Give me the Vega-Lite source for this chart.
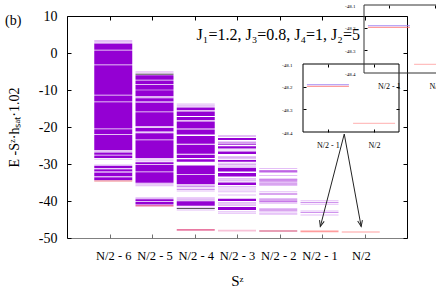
{
  "$schema": "https://vega.github.io/schema/vega-lite/v6.json",
  "width": 340,
  "height": 222,
  "autosize": {"type": "none"},
  "padding": {"left": 67, "top": 16, "right": 29, "bottom": 67},
  "background": "white",
  "config": {
    "view": {"stroke": "black", "strokeWidth": 1},
    "font": "Liberation Serif",
    "axis": {"labelFont": "Liberation Serif", "titleFont": "Liberation Serif", "labelColor": "black", "titleColor": "black", "tickColor": "black", "domainColor": "black", "tickWidth": 1, "titleFontWeight": "normal", "grid": false}
  },
  "title": {"text": "(b)", "anchor": "start", "frame": "group", "dx": -62, "dy": 26, "offset": 1, "baseline": "top", "fontSize": 14, "fontWeight": "normal", "font": "Liberation Serif", "color": "black"},
  "datasets": {
    "bands": [
      {"k": -6, "E": 0.9, "E2": 2.6}, {"k": -6, "E": -3.1, "E2": 0.7}, {"k": -6, "E": -11.3, "E2": -3.3}, {"k": -6, "E": -13.1, "E2": -11.5}, {"k": -6, "E": -20.4, "E2": -13.3}, {"k": -6, "E": -21.9, "E2": -20.6}, {"k": -6, "E": -26.3, "E2": -22.1}, {"k": -6, "E": -27.5, "E2": -26.9}, {"k": -6, "E": -28.4, "E2": -27.7}, {"k": -6, "E": -31.1, "E2": -30.5}, {"k": -6, "E": -32.0, "E2": -31.4}, {"k": -6, "E": -33.3, "E2": -32.3}, {"k": -6, "E": -34.4, "E2": -33.6},
      {"k": -5, "E": -7.2, "E2": -6.0}, {"k": -5, "E": -8.4, "E2": -7.4}, {"k": -5, "E": -9.9, "E2": -8.6}, {"k": -5, "E": -11.7, "E2": -10.1}, {"k": -5, "E": -13.1, "E2": -12.2}, {"k": -5, "E": -15.8, "E2": -13.4}, {"k": -5, "E": -19.8, "E2": -16.0}, {"k": -5, "E": -21.2, "E2": -20.3}, {"k": -5, "E": -23.4, "E2": -21.7}, {"k": -5, "E": -28.4, "E2": -23.6}, {"k": -5, "E": -30.0, "E2": -29.5}, {"k": -5, "E": -32.0, "E2": -30.2}, {"k": -5, "E": -35.1, "E2": -32.2}, {"k": -5, "E": -40.0, "E2": -39.5}, {"k": -5, "E": -40.95, "E2": -40.3},
      {"k": -4, "E": -15.5, "E2": -14.7}, {"k": -4, "E": -17.0, "E2": -15.8}, {"k": -4, "E": -18.2, "E2": -17.3}, {"k": -4, "E": -20.4, "E2": -18.5}, {"k": -4, "E": -22.0, "E2": -20.7}, {"k": -4, "E": -24.5, "E2": -22.4}, {"k": -4, "E": -27.2, "E2": -24.8}, {"k": -4, "E": -28.4, "E2": -27.5}, {"k": -4, "E": -29.4, "E2": -28.7}, {"k": -4, "E": -32.8, "E2": -30.4}, {"k": -4, "E": -35.5, "E2": -33.0}, {"k": -4, "E": -41.3, "E2": -40.1},
      {"k": -3, "E": -23.5, "E2": -23.0}, {"k": -3, "E": -25.8, "E2": -25.2}, {"k": -3, "E": -27.3, "E2": -26.6}, {"k": -3, "E": -29.4, "E2": -28.9}, {"k": -3, "E": -32.0, "E2": -31.0}, {"k": -3, "E": -33.4, "E2": -32.4}, {"k": -3, "E": -35.7, "E2": -35.0}, {"k": -3, "E": -40.0, "E2": -39.4}, {"k": -3, "E": -42.4, "E2": -41.6}
    ],
    "levels": [
      {"k": -6, "E": 3.4, "kind": "faint"}, {"k": -6, "E": 3.1, "kind": "faint"}, {"k": -6, "E": 2.8, "kind": "faint"}, {"k": -6, "E": -26.6, "kind": "faint"}, {"k": -6, "E": -28.7, "kind": "faint"}, {"k": -6, "E": -30.3, "kind": "faint"}, {"k": -6, "E": -31.25, "kind": "faint"}, {"k": -6, "E": -32.15, "kind": "faint"}, {"k": -6, "E": -33.45, "kind": "faint"}, {"k": -6, "E": -34.6, "kind": "gsA"},
      {"k": -5, "E": -5.1, "kind": "faint"}, {"k": -5, "E": -5.4, "kind": "faint"}, {"k": -5, "E": -5.75, "kind": "black"}, {"k": -5, "E": -11.9, "kind": "faint"}, {"k": -5, "E": -12.05, "kind": "faint"}, {"k": -5, "E": -13.25, "kind": "faint"}, {"k": -5, "E": -20.05, "kind": "faint"}, {"k": -5, "E": -21.45, "kind": "faint"}, {"k": -5, "E": -28.6, "kind": "faint"}, {"k": -5, "E": -28.9, "kind": "faint"}, {"k": -5, "E": -29.2, "kind": "faint"}, {"k": -5, "E": -35.3, "kind": "faint"}, {"k": -5, "E": -35.6, "kind": "faint"}, {"k": -5, "E": -35.9, "kind": "faint"}, {"k": -5, "E": -39.1, "kind": "faint"}, {"k": -5, "E": -39.3, "kind": "faint"}, {"k": -5, "E": -40.15, "kind": "faint"}, {"k": -5, "E": -41.3, "kind": "gsB"},
      {"k": -4, "E": -13.8, "kind": "faint"}, {"k": -4, "E": -14.1, "kind": "faint"}, {"k": -4, "E": -14.4, "kind": "faint"}, {"k": -4, "E": -35.8, "kind": "faint"}, {"k": -4, "E": -36.1, "kind": "mid"}, {"k": -4, "E": -36.5, "kind": "faint"}, {"k": -4, "E": -36.9, "kind": "mid"}, {"k": -4, "E": -37.3, "kind": "faint"}, {"k": -4, "E": -39.1, "kind": "faint"}, {"k": -4, "E": -39.4, "kind": "faint"}, {"k": -4, "E": -39.7, "kind": "mid"}, {"k": -4, "E": -41.7, "kind": "faint"}, {"k": -4, "E": -42.0, "kind": "black"}, {"k": -4, "E": -42.4, "kind": "faint"}, {"k": -4, "E": -47.8, "kind": "gsC"},
      {"k": -3, "E": -22.3, "kind": "faint"}, {"k": -3, "E": -22.6, "kind": "faint"}, {"k": -3, "E": -24.0, "kind": "faint"}, {"k": -3, "E": -24.3, "kind": "bulk"}, {"k": -3, "E": -24.7, "kind": "bulk"}, {"k": -3, "E": -26.2, "kind": "faint"}, {"k": -3, "E": -28.0, "kind": "faint"}, {"k": -3, "E": -28.3, "kind": "mid"}, {"k": -3, "E": -28.6, "kind": "faint"}, {"k": -3, "E": -29.8, "kind": "faint"}, {"k": -3, "E": -30.2, "kind": "mid"}, {"k": -3, "E": -30.6, "kind": "faint"}, {"k": -3, "E": -33.9, "kind": "faint"}, {"k": -3, "E": -34.3, "kind": "mid"}, {"k": -3, "E": -34.6, "kind": "faint"}, {"k": -3, "E": -36.1, "kind": "faint"}, {"k": -3, "E": -36.5, "kind": "faint"}, {"k": -3, "E": -37.0, "kind": "faint"}, {"k": -3, "E": -37.5, "kind": "faint"}, {"k": -3, "E": -38.4, "kind": "faint"}, {"k": -3, "E": -40.4, "kind": "faint"}, {"k": -3, "E": -40.8, "kind": "mid"}, {"k": -3, "E": -41.2, "kind": "faint"}, {"k": -3, "E": -42.9, "kind": "faint"}, {"k": -3, "E": -43.3, "kind": "faint"}, {"k": -3, "E": -48.0, "kind": "gsD"},
      {"k": -2, "E": -31.2, "kind": "faint"}, {"k": -2, "E": -31.8, "kind": "bulk"}, {"k": -2, "E": -32.1, "kind": "bulk"}, {"k": -2, "E": -32.3, "kind": "faint"}, {"k": -2, "E": -33.1, "kind": "faint"}, {"k": -2, "E": -34.1, "kind": "bulk"}, {"k": -2, "E": -34.3, "kind": "faint"}, {"k": -2, "E": -34.6, "kind": "bulk"}, {"k": -2, "E": -35.0, "kind": "faint"}, {"k": -2, "E": -35.4, "kind": "bulk"}, {"k": -2, "E": -35.8, "kind": "faint"}, {"k": -2, "E": -37.5, "kind": "faint"}, {"k": -2, "E": -38.1, "kind": "bulk"}, {"k": -2, "E": -39.3, "kind": "faint"}, {"k": -2, "E": -39.7, "kind": "bulk"}, {"k": -2, "E": -40.2, "kind": "bulk"}, {"k": -2, "E": -40.6, "kind": "faint"}, {"k": -2, "E": -42.0, "kind": "faint"}, {"k": -2, "E": -42.4, "kind": "bulk"}, {"k": -2, "E": -42.9, "kind": "faint"}, {"k": -2, "E": -43.3, "kind": "faint"}, {"k": -2, "E": -43.6, "kind": "faint"}, {"k": -2, "E": -48.1, "kind": "gsE"},
      {"k": -1, "E": -39.9, "kind": "faint"}, {"k": -1, "E": -40.4, "kind": "mid"}, {"k": -1, "E": -40.9, "kind": "faint"}, {"k": -1, "E": -42.7, "kind": "faint"}, {"k": -1, "E": -43.1, "kind": "mid"}, {"k": -1, "E": -43.8, "kind": "faint"}, {"k": -1, "E": -48.2, "kind": "gsF"},
      {"k": 0, "E": -48.36, "kind": "gsG"}
    ],
    "inset": [
      {"k": -1, "E": -48.199, "kind": "gsF"},
      {"k": -1, "E": -48.191, "kind": "blue"},
      {"k": 0, "E": -48.362, "kind": "gsG"}
    ],
    "insetFrame": [
      {"k": -1.54, "E": -48.4, "k2": 0.54, "E2": -48.1}
    ],
    "arrows": [
      {"id": "left", "k": -0.98, "E": -46.9, "k2": -0.4, "E2": -21.9},
      {"id": "right", "k": 0.01, "E": -46.9, "k2": -0.4, "E2": -21.9}
    ],
    "notes": [
      {"label": "J₁=1.2, J₃=0.8, J₄=1, J₂=5", "k": -2.0, "E": 4.9}
    ]
  },
  "resolve": {"scale": {"x": "independent", "y": "independent"}, "axis": {"x": "independent", "y": "independent"}},
  "layer": [
    {
      "encoding": {
        "x": {"field": "k", "type": "quantitative", "title": "Sᶻ", "scale": {"domain": [-7, 1], "nice": false, "zero": false},
          "axis": {"orient": "bottom", "values": [-6, -5, -4, -3, -2, -1, 0], "labelExpr": "datum.value == 0 ? 'N/2' : 'N/2 - ' + (-datum.value)", "labelFontSize": 12.5, "labelPadding": 11, "ticks": false, "domain": true, "domainColor": "#808080", "domainWidth": 1, "domainOpacity": 1, "titleFontSize": 15, "titleY": 42, "titleBaseline": "middle"}},
        "y": {"field": "E", "type": "quantitative", "title": "E -Sᶻ·hₛₐₜ·1.02", "scale": {"domain": [-50, 10], "nice": false, "zero": false},
          "axis": {"orient": "left", "values": [-50, -40, -30, -20, -10, 0, 10], "labelExpr": "'' + datum.value", "labelFontSize": 14, "labelPadding": 10, "ticks": false, "domain": false, "titleFontSize": 14, "titleX": -53, "titleY": 111, "titleBaseline": "middle", "titleAngle": -90}}
      },
      "layer": [
        {"data": {"name": "bands"}, "mark": {"type": "bar", "width": 38, "color": "#9400d3"}, "encoding": {"y2": {"field": "E2"}}},
        {"data": {"name": "levels"}, "transform": [{"filter": "indexof(datum.kind, 'gs') != 0"}], "mark": {"type": "tick", "orient": "horizontal", "size": 38, "thickness": 1},
          "encoding": {"color": {"field": "kind", "type": "nominal", "legend": null, "scale": {"domain": ["bulk", "mid", "faint", "black", "gsA", "gsB", "gsC", "gsD", "gsE", "gsF", "gsG", "blue"], "range": ["#9400d3", "#bb66e6", "#d9a3f3", "#111111", "#f0888c", "#e0307c", "#e0407a", "#f5a8c8", "#d24874", "#ff7272", "#ffa4a4", "#9c80f2"]}}}},
        {"data": {"name": "levels"}, "transform": [{"filter": "indexof(datum.kind, 'gs') == 0"}], "mark": {"type": "tick", "orient": "horizontal", "size": 38, "thickness": 1.6},
          "encoding": {"color": {"field": "kind", "type": "nominal", "legend": null}}},
        {"data": {"name": "arrows"}, "mark": {"type": "rule", "color": "#222222", "strokeWidth": 1}, "encoding": {"x2": {"field": "k2"}, "y2": {"field": "E2"}}},
        {"data": {"name": "arrows"}, "transform": [{"filter": "datum.id == 'left'"}], "mark": {"type": "point", "shape": "M-0.4,-1L0,0L0.4,-1", "filled": false, "stroke": "#222222", "strokeWidth": 1, "size": 144, "angle": 14.8, "opacity": 1}},
        {"data": {"name": "arrows"}, "transform": [{"filter": "datum.id == 'right'"}], "mark": {"type": "point", "shape": "M-0.4,-1L0,0L0.4,-1", "filled": false, "stroke": "#222222", "strokeWidth": 1, "size": 144, "angle": -10.7, "opacity": 1}},
        {"data": {"name": "notes"}, "mark": {"type": "text", "font": "Liberation Serif", "fontSize": 16, "align": "center", "baseline": "middle", "color": "black"},
          "encoding": {"text": {"field": "label"}}}
      ]
    },
    {
      "data": {"name": "levels"},
      "mark": {"type": "tick", "opacity": 0},
      "encoding": {
        "x": {"field": "k", "type": "quantitative", "scale": {"domain": [-7, 1], "nice": false, "zero": false}, "axis": {"orient": "top", "offset": -222, "values": [-6, -5, -4, -3, -2, -1, 0], "labels": false, "domain": false, "ticks": true, "tickSize": 4, "tickWidth": 1, "tickOpacity": 1, "tickColor": "#707070", "title": null}},
        "y": {"field": "E", "type": "quantitative", "scale": {"domain": [-50, 10], "nice": false, "zero": false}, "axis": {"orient": "right", "offset": -340, "values": [-50, -40, -30, -20, -10, 0, 10], "labels": false, "domain": false, "ticks": true, "tickSize": 4, "tickWidth": 1, "tickOpacity": 1, "tickColor": "black", "title": null}}
      }
    },
    {
      "data": {"name": "levels"},
      "mark": {"type": "tick", "opacity": 0},
      "encoding": {
        "x": {"field": "k", "type": "quantitative", "scale": {"domain": [-7, 1], "nice": false, "zero": false}, "axis": {"orient": "bottom", "offset": -222, "values": [-6, -5, -4, -3, -2, -1, 0], "labels": false, "domain": false, "ticks": true, "tickSize": 4, "tickWidth": 1, "tickOpacity": 1, "tickColor": "black", "title": null}},
        "y": {"field": "E", "type": "quantitative", "scale": {"domain": [-50, 10], "nice": false, "zero": false}, "axis": {"orient": "left", "offset": -340, "values": [-50, -40, -30, -20, -10, 0, 10], "labels": false, "domain": false, "ticks": true, "tickSize": 4, "tickWidth": 1, "tickOpacity": 1, "tickColor": "black", "title": null}}
      }
    },
    {
      "encoding": {
        "x": {"field": "k", "type": "quantitative", "scale": {"domain": [-1.54, 0.54], "range": [236, 332], "nice": false, "zero": false},
          "axis": {"orient": "bottom", "offset": -106, "values": [-1, 0], "labelExpr": "datum.value == 0 ? 'N/2' : 'N/2 - ' + (-datum.value)", "labelFontSize": 8, "labelPadding": 9, "ticks": false, "domain": false, "title": null}},
        "y": {"field": "E", "type": "quantitative", "scale": {"domain": [-48.4, -48.1], "range": [116, 48], "nice": false, "zero": false},
          "axis": {"orient": "left", "offset": -236, "values": [-48.4, -48.3, -48.2, -48.1], "labelExpr": "'' + datum.value", "labelFontSize": 5, "labelPadding": 11, "ticks": false, "domain": false, "title": null}}
      },
      "layer": [
        {"data": {"name": "insetFrame"}, "mark": {"type": "rect", "filled": false, "color": "black", "strokeWidth": 1}, "encoding": {"x2": {"field": "k2"}, "y2": {"field": "E2"}}},
        {"data": {"name": "inset"}, "mark": {"type": "tick", "orient": "horizontal", "size": 42, "thickness": 1.2}, "encoding": {"color": {"field": "kind", "type": "nominal", "legend": null}}}
      ]
    },
    {
      "data": {"name": "inset"},
      "mark": {"type": "tick", "opacity": 0},
      "encoding": {
        "x": {"field": "k", "type": "quantitative", "scale": {"domain": [-1.54, 0.54], "range": [236, 332], "nice": false, "zero": false}, "axis": {"orient": "top", "offset": -116, "values": [-1, 0], "labels": false, "domain": false, "ticks": true, "tickSize": 3, "tickWidth": 1, "tickOpacity": 1, "tickColor": "black", "title": null}},
        "y": {"field": "E", "type": "quantitative", "scale": {"domain": [-48.4, -48.1], "range": [116, 48], "nice": false, "zero": false}, "axis": {"orient": "right", "offset": -104, "values": [-48.3, -48.2], "labels": false, "domain": false, "ticks": true, "tickSize": 3, "tickWidth": 1, "tickOpacity": 1, "tickColor": "black", "title": null}}
      }
    },
    {
      "data": {"name": "inset"},
      "mark": {"type": "tick", "opacity": 0},
      "encoding": {
        "x": {"field": "k", "type": "quantitative", "scale": {"domain": [-1.54, 0.54], "range": [236, 332], "nice": false, "zero": false}, "axis": {"orient": "bottom", "offset": -174, "values": [-1, 0], "labels": false, "domain": false, "ticks": true, "tickSize": 3, "tickWidth": 1, "tickOpacity": 1, "tickColor": "black", "title": null}},
        "y": {"field": "E", "type": "quantitative", "scale": {"domain": [-48.4, -48.1], "range": [116, 48], "nice": false, "zero": false}, "axis": {"orient": "left", "offset": -332, "values": [-48.3, -48.2], "labels": false, "domain": false, "ticks": true, "tickSize": 3, "tickWidth": 1, "tickOpacity": 1, "tickColor": "black", "title": null}}
      }
    },
    {
      "encoding": {
        "x": {"field": "k", "type": "quantitative", "scale": {"domain": [-1.54, 0.54], "range": [297, 393], "nice": false, "zero": false},
          "axis": {"orient": "bottom", "offset": -165, "values": [-1, 0], "labelExpr": "datum.value == 0 ? 'N/2' : 'N/2 - ' + (-datum.value)", "labelFontSize": 8, "labelPadding": 9, "ticks": false, "domain": false, "title": null}},
        "y": {"field": "E", "type": "quantitative", "scale": {"domain": [-48.4, -48.1], "range": [57, -11], "nice": false, "zero": false},
          "axis": {"orient": "left", "offset": -297, "values": [-48.4, -48.3, -48.2, -48.1], "labelExpr": "'' + datum.value", "labelFontSize": 5, "labelPadding": 9, "ticks": false, "domain": false, "title": null}}
      },
      "layer": [
        {"data": {"name": "insetFrame"}, "mark": {"type": "rect", "filled": false, "color": "#333333", "strokeWidth": 1}, "encoding": {"x2": {"field": "k2"}, "y2": {"field": "E2"}}},
        {"data": {"name": "inset"}, "mark": {"type": "tick", "orient": "horizontal", "size": 42, "thickness": 1.2}, "encoding": {"color": {"field": "kind", "type": "nominal", "legend": null}}}
      ]
    },
    {
      "data": {"name": "inset"},
      "mark": {"type": "tick", "opacity": 0},
      "encoding": {
        "x": {"field": "k", "type": "quantitative", "scale": {"domain": [-1.54, 0.54], "range": [297, 393], "nice": false, "zero": false}, "axis": {"orient": "bottom", "offset": -233, "values": [-1, 0], "labels": false, "domain": false, "ticks": true, "tickSize": 3, "tickWidth": 1, "tickOpacity": 1, "tickColor": "black", "title": null}},
        "y": {"field": "E", "type": "quantitative", "scale": {"domain": [-48.4, -48.1], "range": [57, -11], "nice": false, "zero": false}, "axis": {"orient": "right", "offset": -43, "values": [-48.3, -48.2], "labels": false, "domain": false, "ticks": true, "tickSize": 3, "tickWidth": 1, "tickOpacity": 1, "tickColor": "black", "title": null}}
      }
    }
  ]
}
